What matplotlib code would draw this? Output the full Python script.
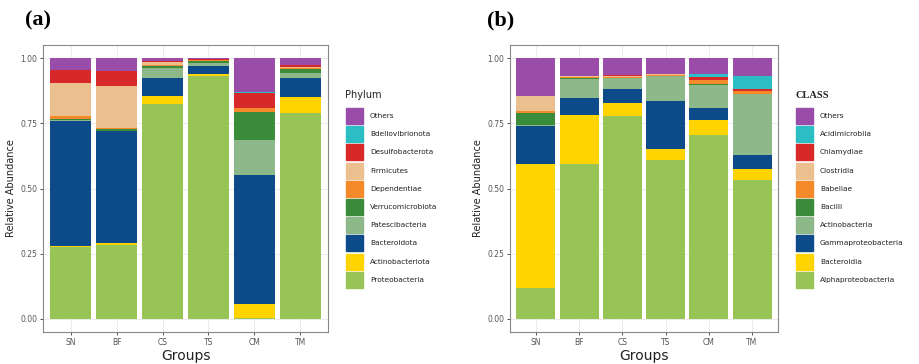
import numpy as np
import matplotlib
matplotlib.use('Agg')
import matplotlib.pyplot as plt
from matplotlib.patches import Rectangle

# 그룹
groups = ['SN', 'BF', 'CS', 'TS', 'CM', 'TM']

# (a) Phylum - 아래에서 위로 쌓는 순서
phylum_names = ['Proteobacteria', 'Actinobacteriota', 'Bacteroidota', 'Patescibacteria',
                'Verrucomicrobiota', 'Dependentiae', 'Firmicutes', 'Desulfobacterota',
                'Bdellovibrionota', 'Others']
proteobacteria = [0.275, 0.285, 0.823, 0.930, 0.002, 0.790]
actinobacteriota = [0.005, 0.007, 0.032, 0.008, 0.055, 0.060]
bacteroidota = [0.480, 0.427, 0.070, 0.032, 0.496, 0.073]
patescibacteria = [0.003, 0.003, 0.035, 0.012, 0.134, 0.020]
verrucomicrobiota = [0.005, 0.005, 0.008, 0.006, 0.108, 0.015]
dependentiae = [0.010, 0.006, 0.007, 0.004, 0.012, 0.004]
firmicutes = [0.125, 0.160, 0.008, 0.002, 0.003, 0.003]
desulfobacterota = [0.050, 0.057, 0.004, 0.002, 0.055, 0.008]
bdellovibrionota = [0.002, 0.002, 0.003, 0.001, 0.003, 0.002]
others_a = [0.045, 0.048, 0.010, 0.003, 0.132, 0.025]
phylum_vals = [proteobacteria, actinobacteriota, bacteroidota, patescibacteria,
               verrucomicrobiota, dependentiae, firmicutes, desulfobacterota,
               bdellovibrionota, others_a]

# (b) CLASS
class_names = ['Alphaproteobacteria', 'Bacteroidia', 'Gammaproteobacteria', 'Actinobacteria',
               'Bacilli', 'Babeliae', 'Clostridia', 'Chlamydiae', 'Acidimicrobiia', 'Others']
alphaproteobacteria = [0.117, 0.595, 0.776, 0.611, 0.706, 0.532]
bacteroidia = [0.478, 0.187, 0.051, 0.040, 0.057, 0.043]
gammaproteobacteria = [0.145, 0.064, 0.055, 0.186, 0.045, 0.055]
actinobacteria = [0.003, 0.075, 0.040, 0.094, 0.089, 0.232]
bacilli = [0.047, 0.002, 0.002, 0.002, 0.003, 0.002]
babeliae = [0.008, 0.005, 0.004, 0.002, 0.015, 0.008]
clostridia = [0.055, 0.002, 0.002, 0.002, 0.002, 0.002]
chlamydiae = [0.002, 0.002, 0.004, 0.002, 0.012, 0.006]
acidimicrobiia = [0.001, 0.001, 0.001, 0.001, 0.011, 0.050]
others_b = [0.144, 0.067, 0.065, 0.060, 0.060, 0.070]
class_vals = [alphaproteobacteria, bacteroidia, gammaproteobacteria, actinobacteria,
              bacilli, babeliae, clostridia, chlamydiae, acidimicrobiia, others_b]

# 색상 (아래 -> 위)
colors = ['#98C455', '#FFD400', '#0D4A8A', '#8DB88A', '#3B8C3A',
          '#F58A2A', '#EBBF8E', '#D7282A', '#2BBFC5', '#994CA8']

plt.rcParams['font.family'] = ['DejaVu Sans']

fig = plt.figure(figsize=(9.19, 3.64), dpi=100)
W, H = 919, 364


def fx(px):
    return px / W


def fy(py):
    return 1 - py / H


def draw_panel(rect, vals):
    ax = fig.add_axes(rect)
    x = np.arange(1, len(groups) + 1)
    bottom = np.zeros(len(groups))
    for v, c in zip(vals, colors):
        ax.bar(x, v, width=0.9, bottom=bottom, color=c, linewidth=0, zorder=2)
        bottom += np.array(v)
    ax.set_xlim(0.4, len(groups) + 0.6)
    ax.set_ylim(-0.05, 1.05)
    ax.set_xticks(x)
    ax.set_xticklabels(groups)
    ax.set_yticks([0, 0.25, 0.5, 0.75, 1.0])
    ax.set_yticklabels(['0.00', '0.25', '0.50', '0.75', '1.00'])
    ax.tick_params(axis='both', labelsize=5.5, colors='#333333', length=2.5,
                   width=0.6, labelcolor='#555555', pad=1.5)
    ax.grid(True, color='#E6E6E6', linewidth=0.6, zorder=0)
    ax.set_axisbelow(True)
    for s in ax.spines.values():
        s.set_color('#888888')
        s.set_linewidth(0.8)
    ax.set_ylabel('Relative Abundance', fontsize=7, color='#222222', labelpad=3)
    ax.set_xlabel('Groups', fontsize=10, color='#222222', labelpad=2)
    return ax


def draw_legend(x0, title, names, title_kw):
    fig.text(fx(x0), fy(95), title, ha='left', va='center', **title_kw)
    y = 108
    for name, c in reversed(list(zip(names, colors))):
        fig.patches.append(Rectangle((fx(x0 + 1), fy(y + 16)), fx(17), 16 / H,
                                     transform=fig.transFigure, color=c))
        fig.text(fx(x0 + 25), fy(y + 8), name, ha='left', va='center',
                 fontsize=5.3, color='#222222')
        y += 18.2


draw_panel([fx(43), fy(332), fx(285), 287 / H], phylum_vals)
draw_panel([fx(510), fy(332), fx(268), 287 / H], class_vals)

draw_legend(345, 'Phylum', phylum_names, dict(fontsize=7, color='#222222'))
draw_legend(795, 'CLASS', class_names,
            dict(fontsize=7.5, fontweight='bold', family='Liberation Serif', color='#222222'))

fig.text(fx(25), fy(20), '(a)', fontsize=16, fontweight='bold', family='Liberation Serif',
         ha='left', va='center')
fig.text(fx(487), fy(20), '(b)', fontsize=16, fontweight='bold', family='Liberation Serif',
         ha='left', va='center')

fig.savefig('out.png', dpi=100)
